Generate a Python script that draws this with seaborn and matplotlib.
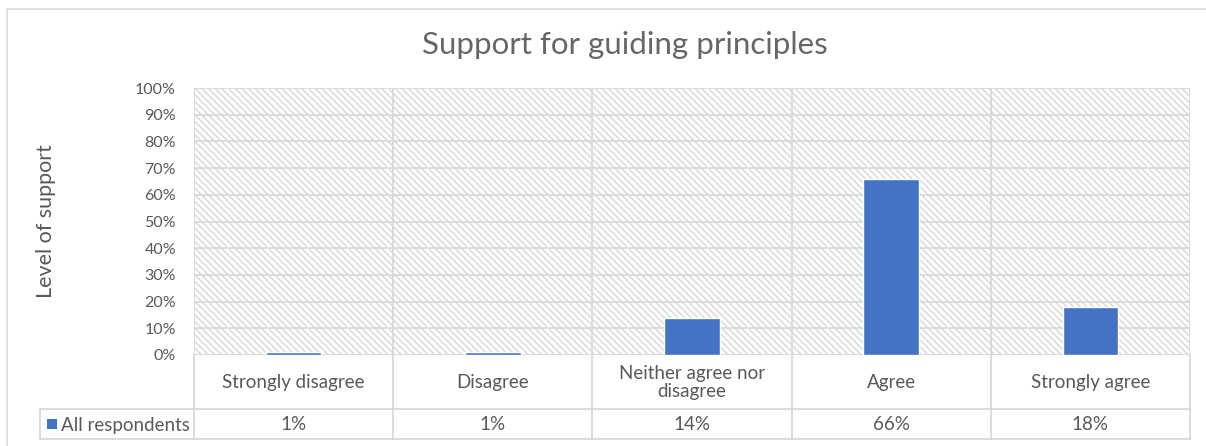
import matplotlib
matplotlib.use("Agg")
import matplotlib.pyplot as plt
from matplotlib.patches import Rectangle
from matplotlib.lines import Line2D
import seaborn as sns
import pandas as pd

# Survey responses
categories = ["Strongly disagree", "Disagree", "Neither agree nor\ndisagree", "Agree", "Strongly agree"]
support = [1, 1, 14, 66, 18]
series_name = "All respondents"
yticks = list(range(0, 101, 10))

df = pd.DataFrame({"category": categories, "support": support})

sns.set_theme(style="white")
plt.rcParams["font.family"] = ["Lato", "DejaVu Sans"]
plt.rcParams["hatch.linewidth"] = 1.0

TEXT = "#595959"
GRID = "#D9D9D9"
BAR = "#4472C4"

W, H = 1206, 446
fig = plt.figure(figsize=(W / 100, H / 100), dpi=100)
fig.patch.set_facecolor("white")

def fx(px):
    return px / W

def fy(py):
    return 1 - py / H

# Outer chart frame
fig.add_artist(Rectangle((fx(6.5), fy(446 + 20)), fx(1300), fy(8.5) - fy(466),
                         transform=fig.transFigure, fill=False, edgecolor=GRID, lw=1.2))

left, right, top, bottom = 194, 1190, 88, 355
ax = fig.add_axes([fx(left), fy(bottom), fx(right - left), fy(top) - fy(bottom)])

# Hatched plot area
ax.add_patch(Rectangle((0, 0), 1, 1, transform=ax.transAxes, facecolor="white",
                       edgecolor="#D6D6D6", hatch="\\\\\\\\\\", lw=0, zorder=0))

sns.barplot(data=df, x="category", y="support", color=BAR, width=0.28,
            saturation=1, ax=ax, zorder=3)

ax.set_xlim(-0.5, len(categories) - 0.5)
ax.set_ylim(0, 100)
ax.set_yticks(yticks)
ax.set_yticklabels([f"{t}%" for t in yticks], color=TEXT, fontsize=11.5)
ax.tick_params(axis="y", length=0, pad=13)
ax.set_xticks([])
ax.set_xlabel("")
ax.set_ylabel("")
for t in yticks:
    ax.axhline(t, color=GRID, lw=1.3, zorder=1)
for i in range(len(categories) + 1):
    ax.axvline(i - 0.5, color=GRID, lw=1.3, zorder=1)
for s in ax.spines.values():
    s.set_visible(False)

fig.text(fx(46), fy((top + bottom) / 2), "Level of support", rotation=90,
         ha="center", va="center", color=TEXT, fontsize=15.5)
fig.text(fx(625), fy(45), "Support for guiding principles", ha="center", va="center",
         color="#666666", fontsize=22.5)

# Data table beneath the plot
tb_top, tb_mid, tb_bot = 355, 409, 439
tax = fig.add_axes([fx(left), fy(tb_bot), fx(right - left), fy(tb_top) - fy(tb_bot)])
tax.set_xlim(-0.5, len(categories) - 0.5)
tax.set_ylim(tb_bot, tb_top)
tax.axis("off")
cat_w = (right - left) / len(categories)
leg_x0 = -0.5 - (left - 40) / cat_w

for i in range(len(categories) + 1):
    tax.add_line(Line2D([i - 0.5, i - 0.5], [tb_top, tb_bot], color=GRID, lw=1.3, clip_on=False))
for yy in (tb_mid, tb_bot):
    tax.add_line(Line2D([leg_x0, len(categories) - 0.5], [yy, yy], color=GRID, lw=1.3, clip_on=False))
tax.add_line(Line2D([leg_x0, leg_x0], [tb_mid, tb_bot], color=GRID, lw=1.3, clip_on=False))

for i, (c, v) in enumerate(zip(categories, support)):
    tax.text(i, (tb_top + tb_mid) / 2 + 0.5, c, ha="center", va="center", color=TEXT,
             fontsize=13.5, linespacing=1.1)
    tax.text(i, (tb_mid + tb_bot) / 2 + 1, f"{v}%", ha="center", va="center",
             color=TEXT, fontsize=13.5)

sq = 10 / cat_w
tax.add_patch(Rectangle((leg_x0 + 7 / cat_w, (tb_mid + tb_bot) / 2 + 5), sq, -10,
                        facecolor=BAR, edgecolor="none", clip_on=False))
tax.text(leg_x0 + 21 / cat_w, (tb_mid + tb_bot) / 2 + 1, series_name, ha="left",
         va="center", color=TEXT, fontsize=13.5, clip_on=False)

fig.savefig("out.png", dpi=100, facecolor="white")
